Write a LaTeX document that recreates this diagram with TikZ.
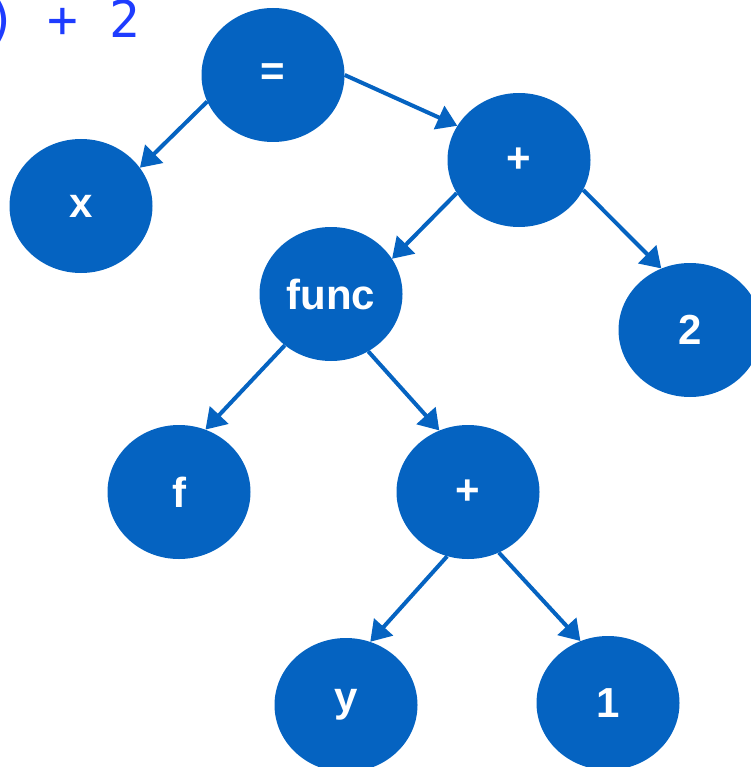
\documentclass[tikz,border=0pt]{standalone}
\usepackage{fontspec}
\setmainfont{Liberation Sans}
\newfontfamily\codefont{DejaVu Sans Mono}
\usetikzlibrary{shapes.geometric,arrows.meta}
\definecolor{nodeblue}{HTML}{0563C1}
\definecolor{codeblue}{RGB}{30,60,255}
\tikzset{
  tnode/.style={ellipse, fill=nodeblue, minimum width=143pt, minimum height=134pt, inner sep=0pt,
    text=white, font=\fontsize{42}{50}\selectfont\bfseries},
  edge/.style={draw=nodeblue, line width=4pt, -{Triangle[length=20pt,width=25pt]}}
}
\begin{document}
\begin{tikzpicture}[x=1pt,y=-1pt]
\useasboundingbox (0,0) rectangle (750,767);
\node[anchor=base west, inner sep=0pt, text=codeblue, font=\codefont\fontsize{51}{60}\selectfont] (code) at (-14,38) {)\ +\ 2};
\node[tnode] (eq) at (273,75) {=};
\node[tnode] (x) at (81,206) {x};
\node[tnode] (p1) at (519,160) {+};
\node[tnode] (func) at (331,294) {func};
\node[tnode] (two) at (690,330) {2};
\node[tnode] (f) at (179,492) {f};
\node[tnode] (p2) at (468,492) {+};
\node[tnode] (y) at (346,705) {y};
\node[tnode] (one) at (608,703) {1};
\draw[edge] (eq.202) -- (x.33);
\draw[edge] (eq.0) -- (p1.151);
\draw[edge] (p1.208) -- (func.30);
\draw[edge] (p1.-25) -- (two.115);
\draw[edge] (func.228) -- (f.67);
\draw[edge] (func.303) -- (p2.115);
\draw[edge] (p2.252) -- (y.69);
\draw[edge] (p2.297) -- (one.114);
\end{tikzpicture}
\end{document}
